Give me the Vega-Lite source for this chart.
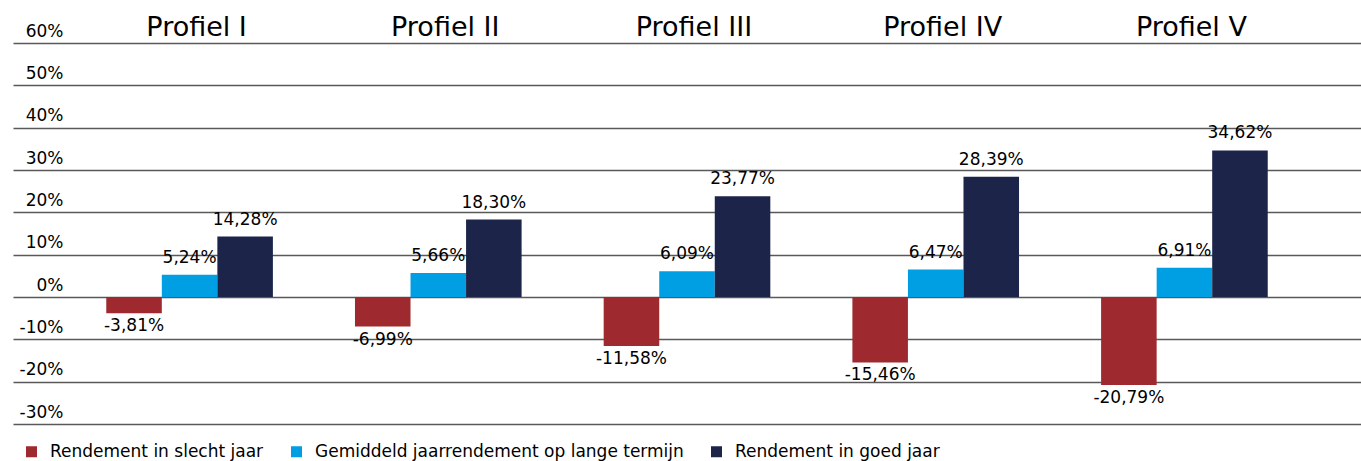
{
  "$schema": "https://vega.github.io/schema/vega-lite/v6.json",
  "width": 1348,
  "height": 381,
  "autosize": {"type": "none"},
  "padding": {"left": 13, "top": 43, "right": 0, "bottom": 37},
  "background": "white",
  "config": {
    "locale": {"number": {"decimal": ",", "thousands": ".", "grouping": [3], "currency": ["€", ""], "minus": "-"}},
    "font": "DejaVu Sans",
    "view": {"stroke": null}
  },
  "data": {
    "values": [
      {"profiel": "Profiel I", "reeks": "Rendement in slecht jaar", "waarde": -0.0381},
      {"profiel": "Profiel I", "reeks": "Gemiddeld jaarrendement op lange termijn", "waarde": 0.0524},
      {"profiel": "Profiel I", "reeks": "Rendement in goed jaar", "waarde": 0.1428},
      {"profiel": "Profiel II", "reeks": "Rendement in slecht jaar", "waarde": -0.0699},
      {"profiel": "Profiel II", "reeks": "Gemiddeld jaarrendement op lange termijn", "waarde": 0.0566},
      {"profiel": "Profiel II", "reeks": "Rendement in goed jaar", "waarde": 0.1830},
      {"profiel": "Profiel III", "reeks": "Rendement in slecht jaar", "waarde": -0.1158},
      {"profiel": "Profiel III", "reeks": "Gemiddeld jaarrendement op lange termijn", "waarde": 0.0609},
      {"profiel": "Profiel III", "reeks": "Rendement in goed jaar", "waarde": 0.2377},
      {"profiel": "Profiel IV", "reeks": "Rendement in slecht jaar", "waarde": -0.1546},
      {"profiel": "Profiel IV", "reeks": "Gemiddeld jaarrendement op lange termijn", "waarde": 0.0647},
      {"profiel": "Profiel IV", "reeks": "Rendement in goed jaar", "waarde": 0.2839},
      {"profiel": "Profiel V", "reeks": "Rendement in slecht jaar", "waarde": -0.2079},
      {"profiel": "Profiel V", "reeks": "Gemiddeld jaarrendement op lange termijn", "waarde": 0.0691},
      {"profiel": "Profiel V", "reeks": "Rendement in goed jaar", "waarde": 0.3462}
    ]
  },
  "encoding": {
    "x": {
      "field": "profiel", "type": "nominal",
      "sort": ["Profiel I", "Profiel II", "Profiel III", "Profiel IV", "Profiel V"],
      "scale": {"paddingInner": 0.33, "paddingOuter": 0.375},
      "axis": {"orient": "top", "title": null, "domain": false, "ticks": false, "tickSize": 0, "grid": false,
               "labelAngle": 0, "labelFontSize": 27, "labelColor": "#000000", "labelBaseline": "alphabetic",
               "labelPadding": 8, "labelOffset": 7, "labelFont": "DejaVu Sans"}
    },
    "xOffset": {
      "field": "reeks", "type": "nominal",
      "sort": ["Rendement in slecht jaar", "Gemiddeld jaarrendement op lange termijn", "Rendement in goed jaar"],
      "scale": {"paddingInner": 0, "paddingOuter": 0}
    },
    "y": {
      "field": "waarde", "type": "quantitative",
      "scale": {"domain": [-0.3, 0.6], "nice": false, "zero": false},
      "axis": {"title": null, "format": ".0%", "values": [-0.3, -0.2, -0.1, 0, 0.1, 0.2, 0.3, 0.4, 0.5, 0.6],
               "domain": false, "ticks": false, "tickSize": 0, "grid": true, "gridColor": "#595959", "gridWidth": 1.3,
               "labelAlign": "right", "labelPadding": -50, "labelBaseline": "alphabetic", "labelOffset": -7,
               "labelFontSize": 17, "labelColor": "#000000", "labelFont": "DejaVu Sans"}
    }
  },
  "layer": [
    {
      "mark": {"type": "bar", "width": {"band": 1}},
      "encoding": {
        "color": {
          "field": "reeks", "type": "nominal",
          "scale": {"domain": ["Rendement in slecht jaar", "Gemiddeld jaarrendement op lange termijn", "Rendement in goed jaar"],
                    "range": ["#9e2a2f", "#009fe3", "#1c2549"]},
          "legend": {"orient": "none", "legendX": 10, "legendY": 400, "direction": "horizontal", "title": null,
                     "symbolType": "square", "symbolSize": 121, "symbolStrokeWidth": 0, "symbolOpacity": 1,
                     "labelFontSize": 17, "labelColor": "#000000", "labelFont": "DejaVu Sans", "labelOffset": 10,
                     "columnPadding": 24, "labelLimit": 500}
        }
      }
    },
    {
      "transform": [{"filter": "datum.waarde < 0"}],
      "mark": {"type": "text", "baseline": "middle", "dy": 13, "fontSize": 17, "color": "#000000", "font": "DejaVu Sans"},
      "encoding": {"text": {"field": "waarde", "type": "quantitative", "format": ".2%"}}
    },
    {
      "transform": [{"filter": "datum.waarde >= 0"}],
      "mark": {"type": "text", "baseline": "middle", "dy": -17, "fontSize": 17, "color": "#000000", "font": "DejaVu Sans"},
      "encoding": {"text": {"field": "waarde", "type": "quantitative", "format": ".2%"}}
    }
  ]
}
